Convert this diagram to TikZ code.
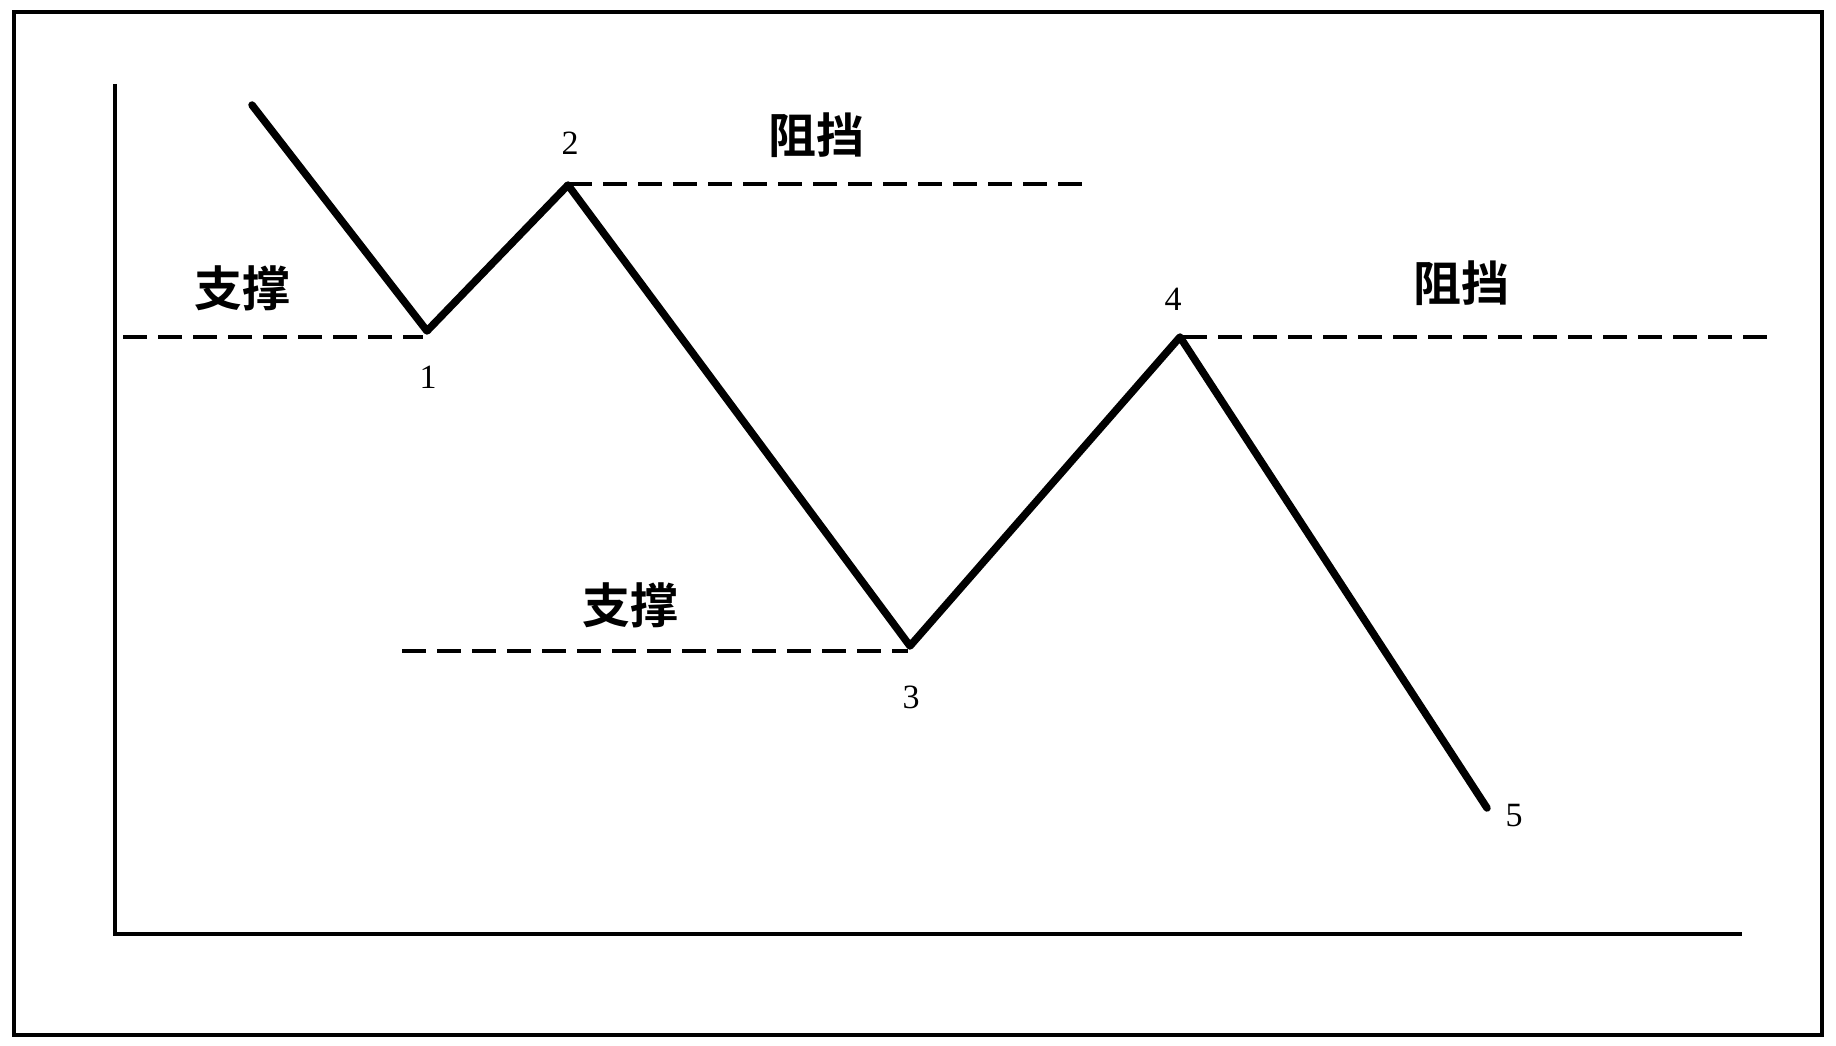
\documentclass[tikz,border=0pt]{standalone}
\usepackage{fontspec}
\newfontfamily\cjk{Noto Sans CJK SC}[BoldFont={Noto Sans CJK SC Bold}]
\setmainfont{Liberation Serif}
\begin{document}
\begin{tikzpicture}[x=1pt,y=-1pt,
  frameline/.style={line width=4.5pt},
  axisline/.style={line width=4pt},
  priceline/.style={line width=7.5pt,line join=round,line cap=round},
  levelline/.style={line width=4pt,dash pattern=on 24pt off 11pt},
  cjklabel/.style={font=\cjk\bfseries\fontsize{48}{54}\selectfont,inner sep=0pt},
  numlabel/.style={font=\fontsize{34}{40}\selectfont,inner sep=0pt}]
\useasboundingbox (0,0) rectangle (1836,1046);
\fill[white] (0,0) rectangle (1836,1046);
% frame
\coordinate (f1) at (14,12);
\coordinate (f2) at (1822,1035);
\draw[frameline] (f1) rectangle (f2);
% axes
\coordinate (ay) at (115,84);
\coordinate (ao) at (115,934);
\coordinate (ax) at (1742,934);
\draw[axisline] (ay) -- (ao) -- (ax);
% price path
\coordinate (s) at (252,105);
\coordinate (p1) at (427,331);
\coordinate (p2) at (568,185);
\coordinate (p3) at (910,646);
\coordinate (p4) at (1180,337);
\coordinate (p5) at (1487,808);
\draw[priceline] (s) -- (p1) -- (p2) -- (p3) -- (p4) -- (p5);
% support / resistance levels
\coordinate (l1a) at (123,337);
\coordinate (l1b) at (423,337);
\coordinate (l2a) at (568,184);
\coordinate (l2b) at (1083,184);
\coordinate (l3a) at (402,651);
\coordinate (l3b) at (908,651);
\coordinate (l4a) at (1183,337);
\coordinate (l4b) at (1768,337);
\draw[levelline] (l1a) -- (l1b);
\draw[levelline] (l2a) -- (l2b);
\draw[levelline] (l3a) -- (l3b);
\draw[levelline] (l4a) -- (l4b);
% labels
\node[cjklabel] (t1) at (242,288) {支撑};
\node[cjklabel] (t2) at (816,135) {阻挡};
\node[cjklabel] (t3) at (630,605) {支撑};
\node[cjklabel] (t4) at (1461,283) {阻挡};
\node[numlabel] (n1) at (428,377) {1};
\node[numlabel] (n2) at (570,143) {2};
\node[numlabel] (n3) at (911,697) {3};
\node[numlabel] (n4) at (1173,299) {4};
\node[numlabel] (n5) at (1514,816) {5};
\end{tikzpicture}
\end{document}
